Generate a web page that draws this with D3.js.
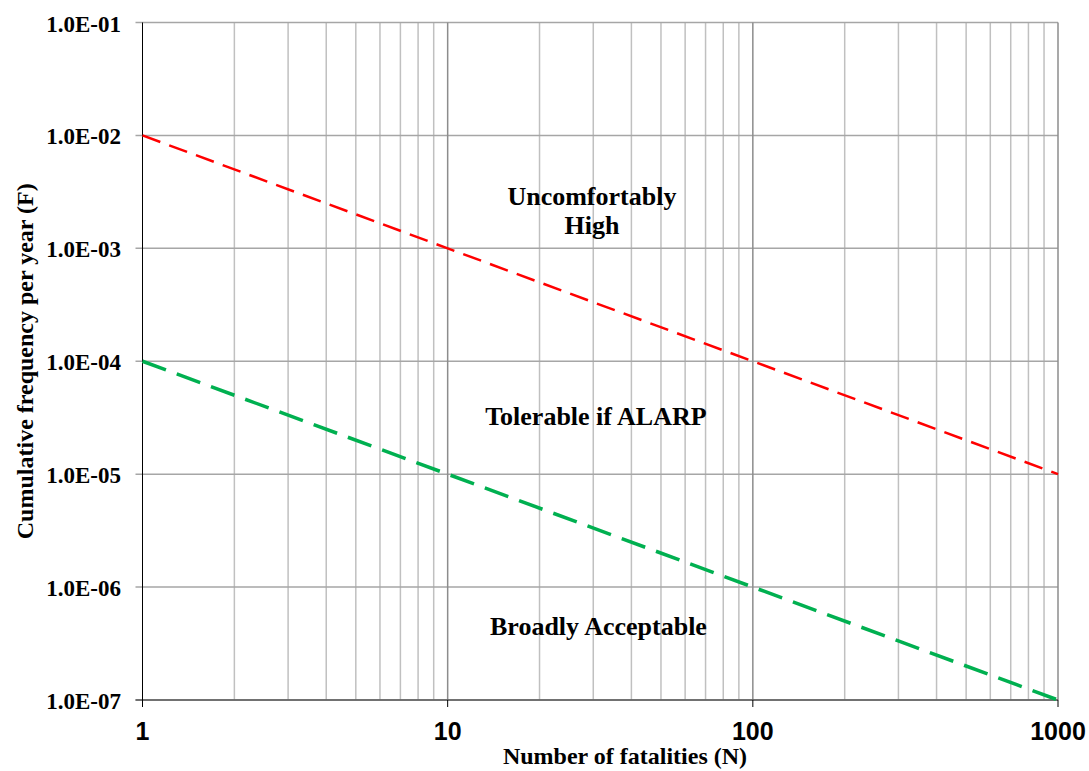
<!DOCTYPE html>
<html>
<head>
<meta charset="utf-8">
<script src="https://cdn.jsdelivr.net/npm/d3@7"></script>
<style>
	body { margin: 0; background: #fff; }
	svg { display: block; }
</style>
</head>
<body>
<div id="chart"></div>
<script>
const width = 1089;
const height = 771;

// Data ==========================================================
const fatalities = [1, 10, 100, 1000];
const upperLimit = [1e-2, 1e-3, 1e-4, 1e-5];
const lowerLimit = [1e-4, 1e-5, 1e-6, 1e-7];
const xTicks = [1, 10, 100, 1000];
const yTicks = [1e-7, 1e-6, 1e-5, 1e-4, 1e-3, 1e-2, 1e-1];
const regionLabels = [
	{ lines: ['Uncomfortably', 'High'], n: 29.7, f: 2.42e-3 },
	{ lines: ['Tolerable if ALARP'], n: 30.6, f: 2.73e-5 },
	{ lines: ['Broadly Acceptable'], n: 31.2, f: 3.77e-7 },
];

const margin = { top: 22.5, right: 31, bottom: 71, left: 142.5 };
const serif = "'Liberation Serif', 'Times New Roman', Times, serif";

const svg = d3.select('#chart').append('svg').attr('width', width).attr('height', height);

const x = d3
	.scaleLog()
	.domain([1, 1000])
	.range([margin.left, width - margin.right]);

const y = d3
	.scaleLog()
	.domain([1e-7, 1e-1])
	.range([height - margin.bottom, margin.top]);

// Grid ==========================================================
const minorX = [];
for (let d = 1; d < 1000; d *= 10) {
	for (let k = 2; k <= 9; k++) minorX.push(d * k);
}

svg.append('g')
	.selectAll('line')
	.data(minorX)
	.join('line')
	.attr('x1', (d) => x(d))
	.attr('x2', (d) => x(d))
	.attr('y1', y(1e-7))
	.attr('y2', y(1e-1))
	.attr('stroke', '#c0c0c0')
	.attr('stroke-width', 1.5);

svg.append('g')
	.selectAll('line')
	.data(yTicks)
	.join('line')
	.attr('x1', x(1) - 7)
	.attr('x2', x(1000))
	.attr('y1', (d) => y(d))
	.attr('y2', (d) => y(d))
	.attr('stroke', '#a6a6a6')
	.attr('stroke-width', 1.5);

svg.append('g')
	.selectAll('line')
	.data([10, 100, 1000])
	.join('line')
	.attr('x1', (d) => x(d))
	.attr('x2', (d) => x(d))
	.attr('y1', y(1e-7))
	.attr('y2', y(1e-1))
	.attr('stroke', '#8c8c8c')
	.attr('stroke-width', 1.5);

// Axes ==========================================================
svg.append('line')
	.attr('x1', x(1) - 7)
	.attr('x2', x(1000))
	.attr('y1', y(1e-7))
	.attr('y2', y(1e-7))
	.attr('stroke', '#595959')
	.attr('stroke-width', 1.5);

svg.append('line')
	.attr('x1', x(1))
	.attr('x2', x(1))
	.attr('y1', y(1e-1))
	.attr('y2', y(1e-7) + 7)
	.attr('stroke', '#000')
	.attr('stroke-width', 1);

svg.append('g')
	.selectAll('line')
	.data(xTicks)
	.join('line')
	.attr('x1', (d) => x(d))
	.attr('x2', (d) => x(d))
	.attr('y1', y(1e-7))
	.attr('y2', y(1e-7) + 7)
	.attr('stroke', '#000')
	.attr('stroke-width', 1);

svg.append('g')
	.selectAll('text')
	.data(xTicks)
	.join('text')
	.attr('x', (d) => x(d))
	.attr('y', y(1e-7) + 40)
	.attr('text-anchor', 'middle')
	.style('font-family', "'Liberation Sans', Arial, sans-serif")
	.style('font-weight', 'bold')
	.style('font-size', '25px')
	.text((d) => d);

svg.append('g')
	.selectAll('text')
	.data(yTicks)
	.join('text')
	.attr('x', 121)
	.attr('y', (d) => y(d) + 9)
	.attr('text-anchor', 'end')
	.style('font-family', serif)
	.style('font-weight', 'bold')
	.style('font-size', '23px')
	.text((d) => '1.0E-' + String(Math.round(-Math.log10(d))).padStart(2, '0'));

svg.append('text')
	.attr('x', 625)
	.attr('y', 764)
	.attr('text-anchor', 'middle')
	.style('font-family', serif)
	.style('font-weight', 'bold')
	.style('font-size', '24px')
	.text('Number of fatalities (N)');

svg.append('text')
	.attr('transform', `translate(33,${(y(1e-7) + y(1e-1)) / 2}) rotate(-90)`)
	.attr('text-anchor', 'middle')
	.style('font-family', serif)
	.style('font-weight', 'bold')
	.style('font-size', '24px')
	.text('Cumulative frequency per year (F)');

// Criterion lines ===============================================
const line = d3
	.line()
	.x((d) => x(d[0]))
	.y((d) => y(d[1]));

svg.append('path')
	.datum(d3.zip(fatalities, upperLimit))
	.attr('d', line)
	.attr('fill', 'none')
	.attr('stroke', '#ff0000')
	.attr('stroke-width', 2.5)
	.attr('stroke-dasharray', '19 9.5');

svg.append('path')
	.datum(d3.zip(fatalities, lowerLimit))
	.attr('d', line)
	.attr('fill', 'none')
	.attr('stroke', '#00b050')
	.attr('stroke-width', 3.5)
	.attr('stroke-dasharray', '25 11.5');

// Region labels =================================================
const labels = svg
	.append('g')
	.selectAll('text')
	.data(regionLabels)
	.join('text')
	.attr('text-anchor', 'middle')
	.style('font-family', serif)
	.style('font-weight', 'bold')
	.style('font-size', '26px');

labels
	.selectAll('tspan')
	.data((d) => d.lines.map((t, i) => ({ t, i, d })))
	.join('tspan')
	.attr('x', (e) => x(e.d.n))
	.attr('y', (e) => y(e.d.f) + e.i * 29)
	.text((e) => e.t);
</script>
</body>
</html>
